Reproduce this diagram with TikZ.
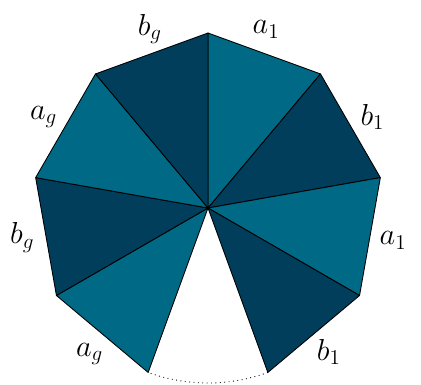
\documentclass[tikz,border=0pt]{standalone}
\usetikzlibrary{calc}
\definecolor{clight}{HTML}{006A86}
\definecolor{cdark}{HTML}{003E5C}
\tikzset{
  tri/.style={draw=black, fill=#1, line width=0.5pt, line join=round},
  lab/.style={font=\fontsize{18.5}{22}\selectfont, inner sep=1pt},
}
\begin{document}
\begin{tikzpicture}
  \useasboundingbox (-4.16,-3.54) rectangle (4.26,4.16);
  % centre and corners of the polygon
  \coordinate (O) at (0,0);
  \foreach \i in {0,...,8} {\coordinate (v\i) at ({90-40*\i}:3.5);}
  % wedges with their edge labels
  \foreach \i/\j/\c/\t/\a in {0/1/clight/a_1/72, 1/2/cdark/b_1/29, 2/3/clight/a_1/-10, 3/4/cdark/b_1/-50,
                           5/6/clight/a_g/-129, 6/7/cdark/b_g/-171, 7/8/clight/a_g/151, 8/0/cdark/b_g/108} {
    \filldraw[tri=\c] (O) -- (v\i) -- (v\j) -- cycle;
    \node[lab] (l\i) at (\a:3.76) {$\t$};
  }
  % missing part
  \draw[dotted, line width=0.5pt] (v4) arc[start angle=-70, end angle=-110, radius=3.5];
\end{tikzpicture}
\end{document}
